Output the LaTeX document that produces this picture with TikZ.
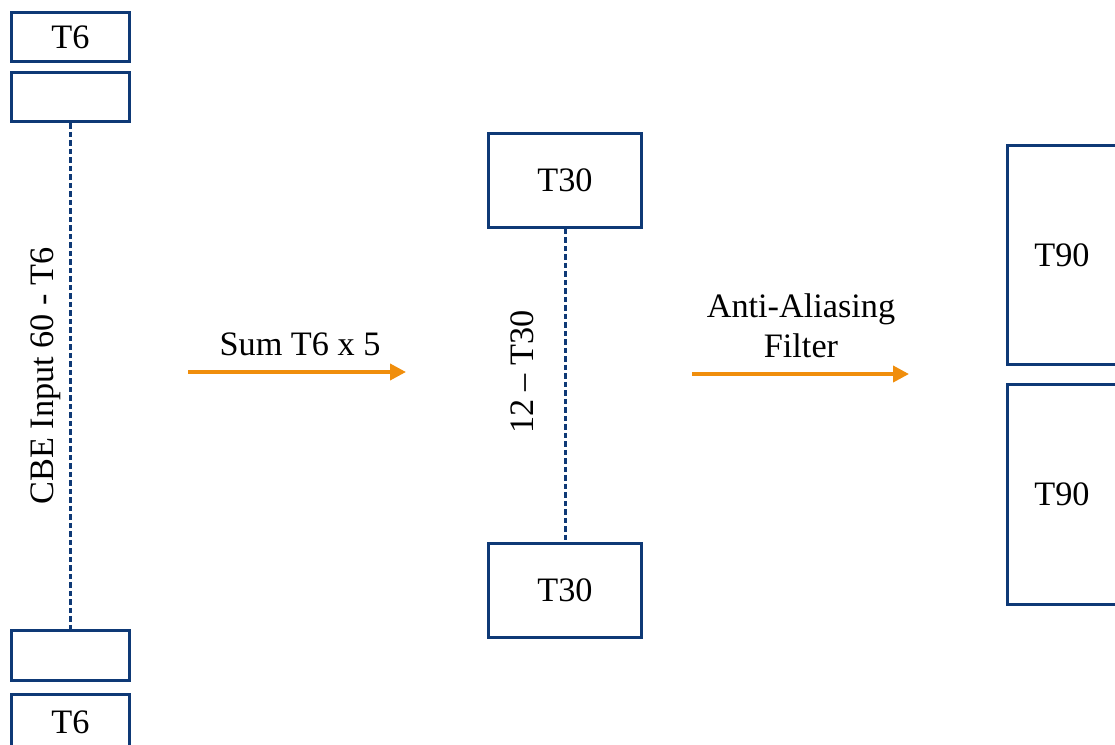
\documentclass[tikz,border=0pt]{standalone}
\usepackage{fontspec}
\setmainfont{Liberation Serif}
\usetikzlibrary{arrows.meta}
\definecolor{boxblue}{RGB}{14,57,118}
\definecolor{flowor}{RGB}{240,142,12}
\begin{document}
\begin{tikzpicture}[x=0.02cm,y=-0.02cm,
  every node/.style={font=\fontsize{19.5}{23.5}\selectfont},
  blk/.style={draw=boxblue,line width=0.06cm,inner sep=0pt,fill=white},
  smallblk/.style={blk,minimum width=2.36cm,minimum height=1.0cm},
  midblk/.style={blk,minimum width=3.06cm,minimum height=1.88cm},
  bigblk/.style={blk,minimum width=2.2cm,minimum height=4.39cm},
  link/.style={draw=boxblue,line width=0.06cm,dash pattern=on 0.11cm off 0.06cm},
  flow/.style={draw=flowor,line width=0.075cm,-{Triangle[length=0.32cm,width=0.32cm]}},
  vlabel/.style={rotate=90,anchor=base,inner sep=0pt},
  hlabel/.style={anchor=base,inner sep=0pt,align=center}]
\useasboundingbox (0,0) rectangle (1115,744);
\clip (0,0) rectangle (1115,744);

% input column: T6 slots
\node[smallblk] (t6a) at (70.5,37) {T6};
\node[smallblk] (t6b) at (70.5,97) {};
\node[smallblk] (t6c) at (70.5,655.5) {};
\node[smallblk,minimum height=1.1cm] (t6d) at (70.5,722) {T6};
\draw[link] (t6b.south) -- (t6c.north);
\node[vlabel] (cbe) at (53,376) {CBE Input 60 - T6};

% first stage
\coordinate (a1s) at (188,372);
\coordinate (a1e) at (406,372);
\draw[flow] (a1s) -- (a1e);
\node[hlabel] (sum) at (300,355) {Sum T6 x 5};

% T30 column
\node[midblk] (t30a) at (565,180.5) {T30};
\node[midblk] (t30b) at (565,590) {T30};
\draw[link] (t30a.south) -- (t30b.north);
\node[vlabel] (n12) at (533,372) {12 – T30};

% second stage
\coordinate (a2s) at (692,374);
\coordinate (a2e) at (909,374);
\draw[flow] (a2s) -- (a2e);
\node[hlabel] (aaf) at (801,317) {Anti-Aliasing};
\node[hlabel] (filt) at (801,357) {Filter};

% T90 column
\node[bigblk] (t90a) at (1062,255) {T90};
\node[bigblk] (t90b) at (1062,494.5) {T90};
\end{tikzpicture}
\end{document}
